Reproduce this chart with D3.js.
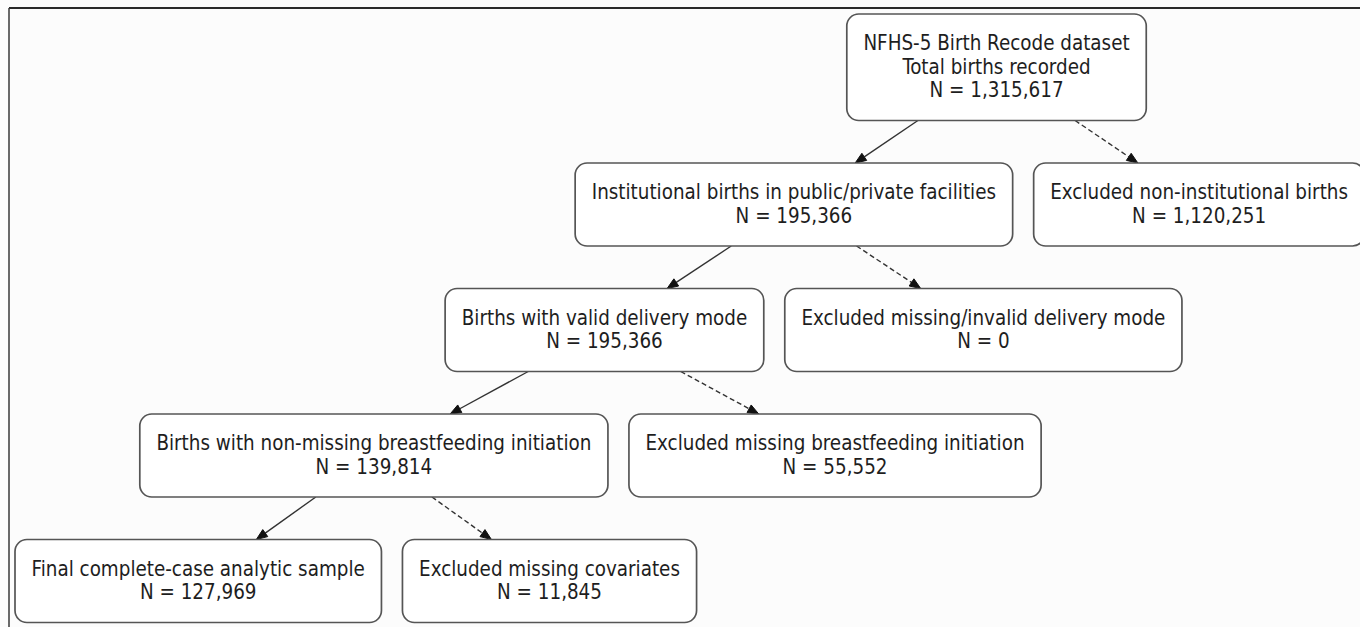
<!DOCTYPE html>
<html>
<head>
<meta charset="utf-8">
<script src="https://cdn.jsdelivr.net/npm/d3@7"></script>
<style>
  body { margin: 0; background: #fcfcfc; }
  svg { display: block; }
</style>
</head>
<body>
<svg id="chart" width="1360" height="627"></svg>
<script>
// flow steps
var mainLabels = [
  ["NFHS-5 Birth Recode dataset", "Total births recorded"],
  ["Institutional births in public/private facilities"],
  ["Births with valid delivery mode"],
  ["Births with non-missing breastfeeding initiation"],
  ["Final complete-case analytic sample"]
];
var mainCounts = [1315617, 195366, 195366, 139814, 127969];

var excludedLabels = [
  "Excluded non-institutional births",
  "Excluded missing/invalid delivery mode",
  "Excluded missing breastfeeding initiation",
  "Excluded missing covariates"
];
var excludedCounts = [1120251, 0, 55552, 11845];

var fmt = d3.format(",");
var fontSize = 20.4, lineH = 23.5, padX = 16.6, padY = 18;
var gap = 21, rankSep = 42.5, left0 = 15, top0 = 14;
var arrowLen = 11, arrowHalf = 4.3;

var svg = d3.select("#chart");

// frame (only top and left edges show in the crop)
svg.append("line").attr("x1", 9).attr("y1", 8).attr("x2", 1360).attr("y2", 8)
  .attr("stroke", "#2a2a2a").attr("stroke-width", 2);
svg.append("line").attr("x1", 9).attr("y1", 8).attr("x2", 9).attr("y2", 627)
  .attr("stroke", "#3a3a3a").attr("stroke-width", 1.5);

var nodes = [];
mainLabels.forEach(function(lab, i) {
  nodes.push({id: "m" + i, row: i, lines: lab.concat(["N = " + fmt(mainCounts[i])])});
});
excludedLabels.forEach(function(lab, i) {
  nodes.push({id: "e" + i, row: i + 1, lines: [lab, "N = " + fmt(excludedCounts[i])]});
});
var byId = {};
nodes.forEach(function(n) { byId[n.id] = n; });

var edgeLayer = svg.append("g");
var nodeLayer = svg.append("g");

var g = nodeLayer.selectAll(".node")
  .data(nodes)
  .join("g")
  .attr("class", "node");

var rect = g.append("rect")
  .attr("fill", "#ffffff")
  .attr("stroke", "#555")
  .attr("stroke-width", 1.7)
  .attr("rx", 12).attr("ry", 12);

var txt = g.append("text")
  .attr("text-anchor", "middle")
  .attr("font-family", "'DejaVu Sans Condensed', 'DejaVu Sans', sans-serif")
  .attr("font-size", fontSize)
  .attr("fill", "#1e1e1e");

txt.selectAll("tspan")
  .data(function(d) { return d.lines; })
  .join("tspan")
  .text(function(d) { return d; });

// size each box from its text
txt.each(function(d) {
  var w = 0;
  d3.select(this).selectAll("tspan").each(function() {
    w = Math.max(w, this.getComputedTextLength());
  });
  d.w = w + 2 * padX;
  d.h = d.lines.length * lineH + 2 * padY;
});

// rank rows from the top
var nRows = mainLabels.length;
var rowTop = [top0], rowH = [];
for (var r = 0; r < nRows; r++) {
  rowH[r] = d3.max(nodes.filter(function(n) { return n.row === r; }), function(n) { return n.h; });
  if (r > 0) rowTop[r] = rowTop[r - 1] + rowH[r - 1] + rankSep;
}
nodes.forEach(function(n) { n.cy = rowTop[n.row] + rowH[n.row] / 2; });

// horizontal placement: parent sits over the middle of its two children
var last = byId["m" + (nRows - 1)];
last.cx = left0 + last.w / 2;
for (var k = nRows - 2; k >= 0; k--) {
  var child = byId["m" + (k + 1)], ex = byId["e" + k];
  ex.cx = child.cx + child.w / 2 + gap + ex.w / 2;
  byId["m" + k].cx = (child.cx + ex.cx) / 2;
}

rect.attr("x", function(d) { return d.cx - d.w / 2; })
  .attr("y", function(d) { return d.cy - d.h / 2; })
  .attr("width", function(d) { return d.w; })
  .attr("height", function(d) { return d.h; });

txt.selectAll("tspan")
  .attr("x", function() { return d3.select(this.parentNode).datum().cx; })
  .attr("y", function(d, i) {
    var n = d3.select(this.parentNode).datum();
    return n.cy + (i - (n.lines.length - 1) / 2) * lineH - 1;
  })
  .attr("dy", "0.36em");

// edges: centre-to-centre lines clipped to box bottom / top
var edges = [];
for (var k = 0; k < nRows - 1; k++) {
  edges.push({s: byId["m" + k], t: byId["m" + (k + 1)], dashed: false});
  edges.push({s: byId["m" + k], t: byId["e" + k], dashed: true});
}
edges.forEach(function(e) {
  var atY = function(y) { return e.s.cx + (e.t.cx - e.s.cx) * (y - e.s.cy) / (e.t.cy - e.s.cy); };
  var y1 = e.s.cy + e.s.h / 2, y2 = e.t.cy - e.t.h / 2;
  var x1 = atY(y1), x2 = atY(y2);
  var dx = x2 - x1, dy = y2 - y1, len = Math.sqrt(dx * dx + dy * dy);
  var ux = dx / len, uy = dy / len;
  e.p0 = [x1, y1];
  e.base = [x2 - ux * arrowLen, y2 - uy * arrowLen];
  e.tip = [x2, y2];
  e.wing1 = [e.base[0] - uy * arrowHalf, e.base[1] + ux * arrowHalf];
  e.wing2 = [e.base[0] + uy * arrowHalf, e.base[1] - ux * arrowHalf];
});

var line = d3.line();
edgeLayer.selectAll(".edge")
  .data(edges)
  .join("path")
  .attr("class", "edge")
  .attr("d", function(d) { return line([d.p0, d.base]); })
  .attr("fill", "none")
  .attr("stroke", "#333")
  .attr("stroke-width", 1.4)
  .attr("stroke-dasharray", function(d) { return d.dashed ? "5,3" : null; });

edgeLayer.selectAll(".head")
  .data(edges)
  .join("path")
  .attr("class", "head")
  .attr("d", function(d) { return line([d.tip, d.wing1, d.wing2]) + "Z"; })
  .attr("fill", "#111")
  .attr("stroke", "#111")
  .attr("stroke-width", 1);
</script>
</body>
</html>
